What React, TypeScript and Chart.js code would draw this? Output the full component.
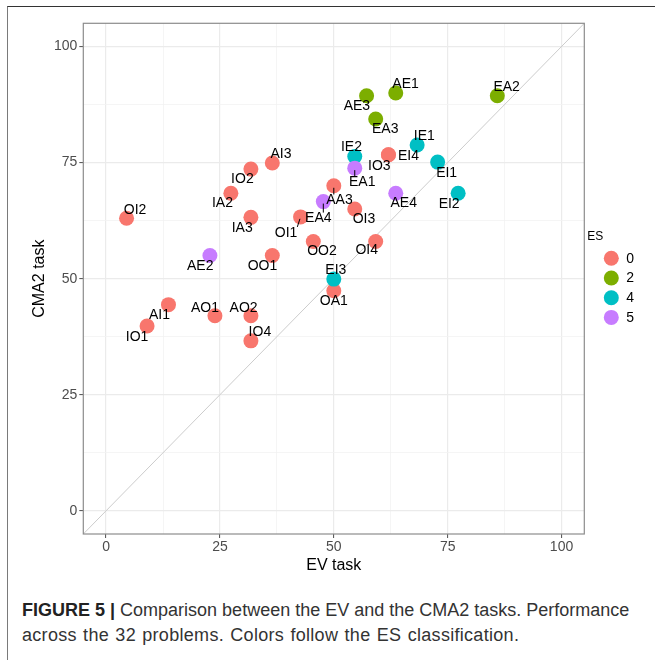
import React, { useEffect, useRef } from 'react';
import { Chart, registerables } from 'chart.js';

Chart.register(...registerables);

// ---- Data ----
const problems = ['OI2', 'IA2', 'IO2', 'AI3', 'IA3', 'OI1', 'AA3', 'EA4', 'AE3', 'AE1', 'EA2', 'EA3', 'IE1', 'IO3', 'EI4', 'IE2', 'EA1', 'EI1', 'EI2', 'AE4', 'OI3', 'OO2', 'OI4', 'AE2', 'OO1', 'EI3', 'OA1', 'AI1', 'IO1', 'AO1', 'AO2', 'IO4'];
const evTask = [4.5, 27.4, 31.8, 36.5, 31.8, 42.7, 50.0, 47.7, 57.2, 63.6, 85.9, 59.2, 68.3, 62.0, 62.0, 54.6, 54.6, 72.8, 77.3, 63.6, 54.6, 45.5, 59.2, 22.8, 36.5, 50.0, 50.0, 13.7, 9.0, 23.9, 31.8, 31.8];
const cma2Task = [63.0, 68.4, 73.6, 74.9, 63.2, 63.3, 70.0, 66.6, 89.4, 90.0, 89.4, 84.4, 78.8, 76.7, 76.7, 76.3, 73.8, 75.1, 68.4, 68.4, 65.0, 58.0, 58.0, 55.0, 55.0, 49.9, 47.4, 44.4, 39.8, 42.0, 42.0, 36.6];
const esClass = [0, 0, 0, 0, 0, 0, 0, 5, 2, 2, 2, 2, 4, 0, 0, 4, 5, 4, 4, 5, 0, 0, 0, 5, 0, 4, 0, 0, 0, 0, 0, 0];
const esLevels = [0, 2, 4, 5];
const majorTicks = [0, 25, 50, 75, 100];
const minorTicks = [12.5, 37.5, 62.5, 87.5];
const identityEnds = [-5, 105];

// ---- Styling (label placement in px, colours) ----
const esColors = ['#F8766D', '#7CAE00', '#00BFC4', '#C77CFF'];
const labelNudge: [number, number][] = [
  [8.5, -8.3], [-8.4, 10], [-8.5, 9.7], [8.7, -9], [-8.7, 10.6], [-14.5, 16], [5.7, 14.7], [-5, 17],
  [-9.7, 10], [9.8, -9.3], [9.3, -9], [9.5, 10.7], [7.2, -9], [-9.1, 11], [20, 1.7], [-3.3, -9.4],
  [7.5, 14.4], [9, 11], [-9, 10.7], [8, 10], [9.2, 10], [8.7, 10], [-9, 9], [-9.7, 10.3],
  [-9.8, 10.3], [2, -9.3], [0, 10], [-9, 10], [-10, 10.7], [-10, -7.7], [-7.3, -7.7], [9, -8.3],
];
const segmentLabels = ['OI1', 'EA4', 'AA3', 'EA1'];

const FONT = '"Liberation Sans", Arial, Helvetica, sans-serif';
const POINT_R = 7.5;

const labelPlugin = {
  id: 'pointLabels',
  afterDatasetsDraw(chart: any) {
    const { ctx, scales } = chart;
    const xs = scales.x;
    const ys = scales.y;
    ctx.save();
    ctx.font = `14px ${FONT}`;
    ctx.textAlign = 'center';
    ctx.textBaseline = 'middle';
    problems.forEach((name, i) => {
      const px = xs.getPixelForValue(evTask[i]);
      const py = ys.getPixelForValue(cma2Task[i]);
      const lx = px + labelNudge[i][0];
      const ly = py + labelNudge[i][1];
      if (segmentLabels.includes(name)) {
        const hw = ctx.measureText(name).width / 2;
        const hh = 6;
        const cx = Math.min(Math.max(px, lx - hw), lx + hw);
        const cy = Math.min(Math.max(py, ly - hh), ly + hh);
        const d = Math.hypot(cx - px, cy - py);
        if (d > 2) {
          const ux = (cx - px) / d;
          const uy = (cy - py) / d;
          ctx.beginPath();
          ctx.strokeStyle = '#000';
          ctx.lineWidth = 1;
          ctx.moveTo(px + ux * 2, py + uy * 2);
          ctx.lineTo(cx, cy);
          ctx.stroke();
        }
      }
      ctx.fillStyle = '#000';
      ctx.fillText(name, lx, ly);
    });
    ctx.restore();
  },
};

const panelPlugin = {
  id: 'panelBorderLegend',
  afterDraw(chart: any) {
    const { ctx, chartArea } = chart;
    ctx.save();
    ctx.strokeStyle = '#8c8c8c';
    ctx.lineWidth = 1.2;
    ctx.strokeRect(chartArea.left, chartArea.top, chartArea.right - chartArea.left, chartArea.bottom - chartArea.top);
    // legend
    const lx = chartArea.right;
    ctx.fillStyle = '#000';
    ctx.font = `12px ${FONT}`;
    ctx.textAlign = 'left';
    ctx.textBaseline = 'middle';
    ctx.fillText('ES', lx + 3, 237);
    ctx.font = `14px ${FONT}`;
    esLevels.forEach((lev, k) => {
      const cy = 258.3 + k * 19.7;
      ctx.beginPath();
      ctx.fillStyle = esColors[k];
      ctx.arc(lx + 27, cy, POINT_R, 0, Math.PI * 2);
      ctx.fill();
      ctx.fillStyle = '#000';
      ctx.fillText(String(lev), lx + 42, cy + 0.5);
    });
    ctx.restore();
  },
};

function isMajor(ctx: any) {
  return ctx && ctx.tick && majorTicks.includes(ctx.tick.value);
}

function axisOptions(title: string, isX: boolean) {
  return {
    type: 'linear',
    min: identityEnds[0],
    max: identityEnds[1],
    afterBuildTicks: (s: any) => {
      s.ticks = [...majorTicks, ...minorTicks].sort((a, b) => a - b).map((v) => ({ value: v }));
    },
    afterFit: (s: any) => {
      if (isX) s.height = 46;
      else s.width = 83.3;
    },
    ticks: {
      autoSkip: false,
      maxRotation: 0,
      padding: isX ? 1 : 2,
      color: '#4d4d4d',
      font: { family: FONT, size: 14 },
      callback: (v: any) => (majorTicks.includes(Number(v)) ? String(v) : ''),
    },
    grid: {
      color: (c: any) => (isMajor(c) ? '#ebebeb' : '#f2f2f2'),
      lineWidth: (c: any) => (isMajor(c) ? 1.2 : 0.8),
      tickColor: (c: any) => (isMajor(c) ? '#4d4d4d' : 'rgba(0,0,0,0)'),
      tickLength: 4,
      tickWidth: 1,
    },
    border: { display: false },
    title: {
      display: true,
      text: title,
      color: '#000',
      font: { family: FONT, size: 16 },
      padding: isX ? { top: 0, bottom: 5 } : { top: 29.5, bottom: 0 },
    },
  };
}

export default function App() {
  const canvasRef = useRef<HTMLCanvasElement | null>(null);

  useEffect(() => {
    const canvas = canvasRef.current;
    if (!canvas) return;
    const datasets: any[] = esLevels.map((lev, k) => ({
      label: String(lev),
      data: problems
        .map((_, i) => i)
        .filter((i) => esClass[i] === lev)
        .map((i) => ({ x: evTask[i], y: cma2Task[i] })),
      backgroundColor: esColors[k],
      borderWidth: 0,
      pointRadius: POINT_R,
      pointHoverRadius: POINT_R,
      order: 4 - k,
    }));
    datasets.push({
      label: 'identity',
      data: identityEnds.map((v) => ({ x: v, y: v })),
      showLine: true,
      borderColor: '#cccccc',
      borderWidth: 1,
      pointRadius: 0,
      order: 10,
    });
    const chart = new Chart(canvas, {
      type: 'scatter',
      data: { datasets },
      options: {
        animation: false,
        responsive: false,
        events: [],
        layout: { padding: { top: 23.3, right: 70.7, bottom: 0, left: 0 } },
        plugins: { legend: { display: false }, tooltip: { enabled: false } },
        scales: {
          x: axisOptions('EV task', true) as any,
          y: axisOptions('CMA2 task', false) as any,
        },
      },
      plugins: [labelPlugin, panelPlugin],
    });
    return () => chart.destroy();
  }, []);

  return (
    <div style={{ position: 'absolute', left: 0, top: 0, width: 655, height: 660, background: '#fff', overflow: 'hidden' }}>
      <div
        style={{
          position: 'absolute',
          left: 7,
          top: 6,
          width: 660,
          height: 660,
          borderTop: '1.5px solid #333',
          borderLeft: '1.5px solid #7a7a7a',
        }}
      />
      <canvas ref={canvasRef} width={655} height={580} style={{ position: 'absolute', left: 0, top: 0, width: 655, height: 580 }} />
      <div
        style={{
          position: 'absolute',
          left: 22,
          top: 598,
          fontFamily: FONT,
          fontSize: 18,
          lineHeight: '25px',
          color: '#333',
          whiteSpace: 'nowrap',
        }}
      >
        <div>
          <b style={{ color: '#222' }}>FIGURE 5 |</b> Comparison between the EV and the CMA2 tasks. Performance
        </div>
        <div style={{ letterSpacing: '0.3px', wordSpacing: '1px' }}>
          across the 32 problems. Colors follow the ES classification.
        </div>
      </div>
    </div>
  );
}
